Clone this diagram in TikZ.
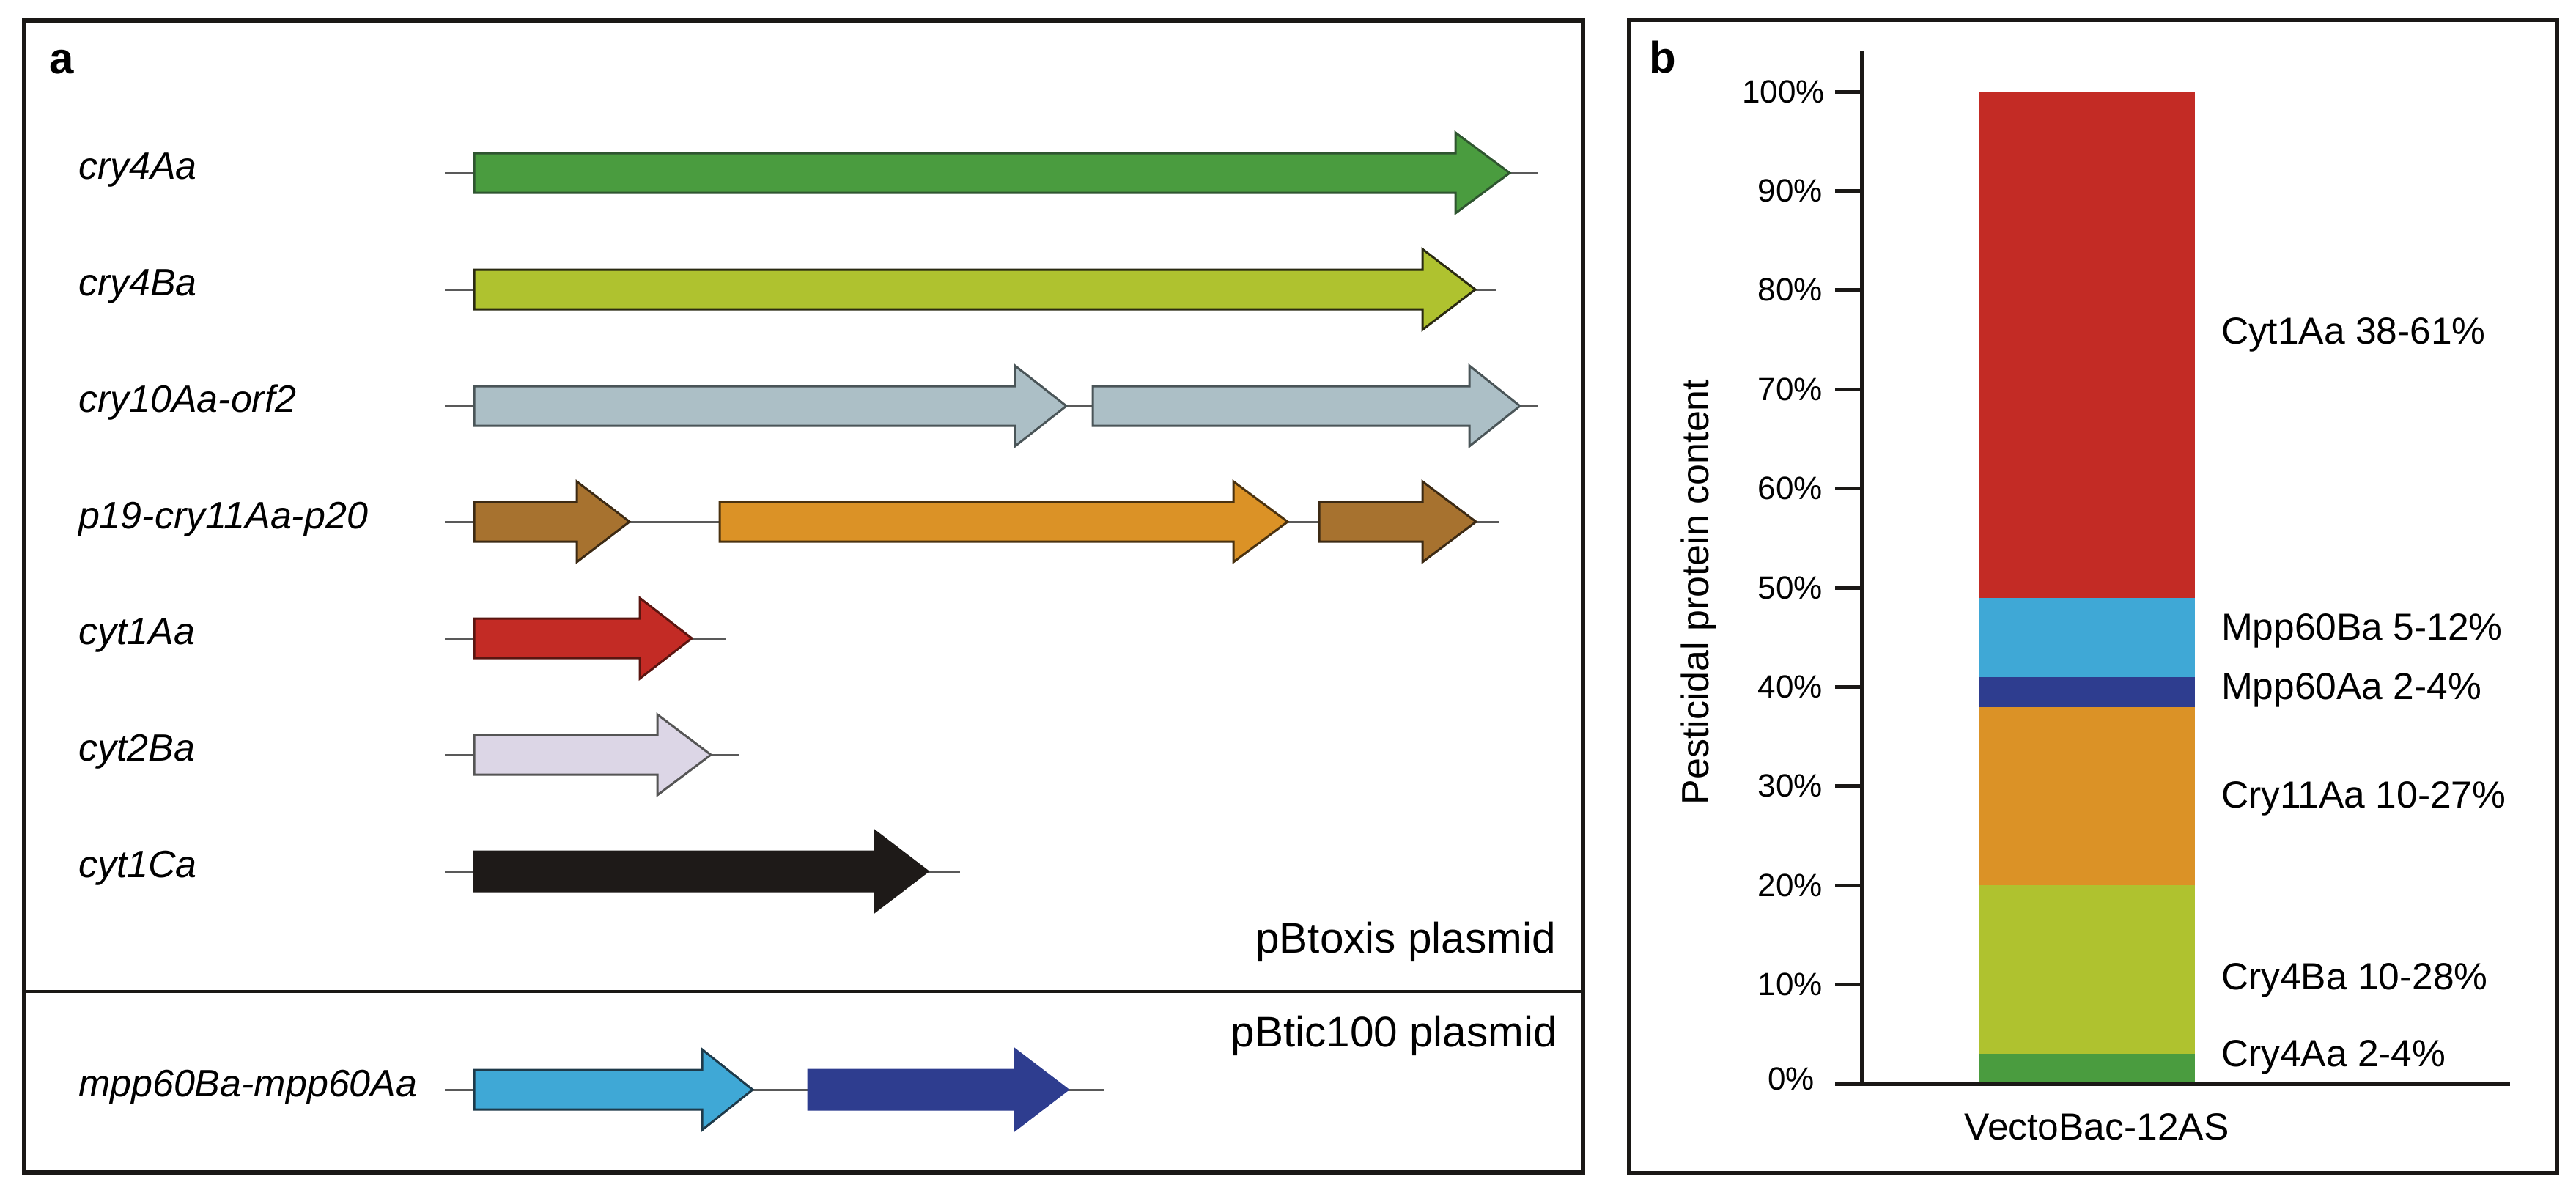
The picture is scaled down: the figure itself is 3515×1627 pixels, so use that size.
\documentclass[tikz,border=0pt]{standalone}
\usepackage{fontspec}
\setmainfont{Liberation Sans}
\definecolor{cgreen}{HTML}{4A9C3F}
\definecolor{cgreenD}{HTML}{2F5530}
\definecolor{cyel}{HTML}{AFC22F}
\definecolor{cyelD}{HTML}{2A2A12}
\definecolor{cgrey}{HTML}{ACBFC6}
\definecolor{cgreyD}{HTML}{4A5558}
\definecolor{cbrown}{HTML}{A7722F}
\definecolor{cbrownD}{HTML}{3C2A14}
\definecolor{corange}{HTML}{DB9226}
\definecolor{corangeD}{HTML}{4A3210}
\definecolor{cred}{HTML}{C32B25}
\definecolor{credD}{HTML}{5A1510}
\definecolor{clav}{HTML}{DCD6E6}
\definecolor{clavD}{HTML}{555555}
\definecolor{cblack}{HTML}{1E1A18}
\definecolor{clblue}{HTML}{3FA8D6}
\definecolor{clblueD}{HTML}{1E3A4A}
\definecolor{cdblue}{HTML}{2E3D8F}
\definecolor{framec}{HTML}{1A1816}
\newcommand\genearrow[6]{%
  \filldraw[fill=#5, draw=#6, line width=0.6pt]
    (#1,#4-27) -- (#2,#4-27) -- (#2,#4-55) -- (#3,#4) -- (#2,#4+55) -- (#2,#4+27) -- (#1,#4+27) -- cycle;}
\begin{document}
\begin{tikzpicture}[x=0.2pt,y=-0.2pt,line join=miter,
  frame/.style={draw=framec, line width=1.1pt},
  backbone/.style={draw=black!65, line width=0.6pt},
  genelabel/.style={font=\fontsize{10.4}{12}\selectfont\itshape, anchor=base west, inner sep=0pt},
  panellabel/.style={font=\fontsize{12}{14}\selectfont\bfseries, anchor=base west, inner sep=0pt},
  plasmidlabel/.style={font=\fontsize{11.7}{14}\selectfont, anchor=base east, inner sep=0pt},
  ticklab/.style={font=\fontsize{8.8}{10}\selectfont, anchor=east, inner sep=0pt},
  barlab/.style={font=\fontsize{10.3}{12}\selectfont, anchor=west, inner sep=0pt},
  axisline/.style={draw=framec, line width=1pt}]
\useasboundingbox (0,0) rectangle (3515,1627);
\fill[white] (0,0) rectangle (3515,1627);

% ---------------- panel a ----------------
\draw[frame] (33,28) rectangle (2160,1600);
\draw[draw=framec, line width=0.9pt] (33,1353) -- (2160,1353);
\node[panellabel] (pa) at (66,100) {a};

% row 1 cry4Aa
\draw[backbone] (607,236) -- (2099,236);
\genearrow{647}{1986}{2060}{236}{cgreen}{cgreenD}
\node[genelabel] (l1) at (106,244) {cry4Aa};
% row 2 cry4Ba
\draw[backbone] (607,395) -- (2042,395);
\genearrow{647}{1941}{2013}{395}{cyel}{cyelD}
\node[genelabel] (l2) at (106,403) {cry4Ba};
% row 3 cry10Aa-orf2
\draw[backbone] (607,554) -- (2099,554);
\genearrow{647}{1385}{1455}{554}{cgrey}{cgreyD}
\genearrow{1491}{2005}{2074}{554}{cgrey}{cgreyD}
\node[genelabel] (l3) at (106,562) {cry10Aa-orf2};
% row 4 p19-cry11Aa-p20
\draw[backbone] (607,712) -- (2045,712);
\genearrow{647}{787}{859}{712}{cbrown}{cbrownD}
\genearrow{982}{1683}{1757}{712}{corange}{corangeD}
\genearrow{1800}{1941}{2014}{712}{cbrown}{cbrownD}
\node[genelabel] (l4) at (106,721) {p19-cry11Aa-p20};
% row 5 cyt1Aa
\draw[backbone] (607,871) -- (991,871);
\genearrow{647}{873}{944}{871}{cred}{credD}
\node[genelabel] (l5) at (106,879) {cyt1Aa};
% row 6 cyt2Ba
\draw[backbone] (607,1030) -- (1009,1030);
\genearrow{647}{897}{970}{1030}{clav}{clavD}
\node[genelabel] (l6) at (106,1038) {cyt2Ba};
% row 7 cyt1Ca
\draw[backbone] (607,1189) -- (1310,1189);
\genearrow{647}{1194}{1266}{1189}{cblack}{cblack}
\node[genelabel] (l7) at (106,1197) {cyt1Ca};
% row 8 mpp60Ba-mpp60Aa
\draw[backbone] (607,1487) -- (1507,1487);
\genearrow{647}{958}{1027}{1487}{clblue}{clblueD}
\genearrow{1103}{1385}{1457}{1487}{cdblue}{cdblue}
\node[genelabel] (l8) at (106,1496) {mpp60Ba-mpp60Aa};

\node[plasmidlabel] (pl1) at (2124,1300) {pBtoxis plasmid};
\node[plasmidlabel] (pl2) at (2126,1428) {pBtic100 plasmid};

% ---------------- panel b ----------------
\draw[frame] (2223,27) rectangle (3489,1601);
\node[panellabel] (pb) at (2249,99) {b};

% stacked bar
\fill[cgreen]  (2701,1479) rectangle (2995,{1479-13.54*3});
\fill[cyel]    (2701,{1479-13.54*3}) rectangle (2995,{1479-13.54*20});
\fill[corange] (2701,{1479-13.54*20}) rectangle (2995,{1479-13.54*38});
\fill[cdblue]  (2701,{1479-13.54*38}) rectangle (2995,{1479-13.54*41});
\fill[clblue]  (2701,{1479-13.54*41}) rectangle (2995,{1479-13.54*49});
\fill[cred]    (2701,{1479-13.54*49}) rectangle (2995,{1479-13.54*100});

% axes
\draw[axisline] (2540,69) -- (2540,1479);
\draw[axisline] (2504,1479) -- (3425,1479);
\foreach \k in {1,...,10} {
  \draw[axisline] (2504,{1479-135.4*\k}) -- (2540,{1479-135.4*\k});
}
\node[ticklab] (t0) at (2477,1472) {0\%};
\node[ticklab] (t1) at (2488,{1479-135.4*1}) {10\%};
\node[ticklab] (t2) at (2488,{1479-135.4*2}) {20\%};
\node[ticklab] (t3) at (2488,{1479-135.4*3}) {30\%};
\node[ticklab] (t4) at (2488,{1479-135.4*4}) {40\%};
\node[ticklab] (t5) at (2488,{1479-135.4*5}) {50\%};
\node[ticklab] (t6) at (2488,{1479-135.4*6}) {60\%};
\node[ticklab] (t7) at (2488,{1479-135.4*7}) {70\%};
\node[ticklab] (t8) at (2488,{1479-135.4*8}) {80\%};
\node[ticklab] (t9) at (2488,{1479-135.4*9}) {90\%};
\node[ticklab] (t10) at (2491,{1479-135.4*10}) {100\%};

\node[barlab] (b1) at (3030,457) {Cyt1Aa 38-61\%};
\node[barlab] (b2) at (3030,861) {Mpp60Ba 5-12\%};
\node[barlab] (b3) at (3030,942) {Mpp60Aa 2-4\%};
\node[barlab] (b4) at (3030,1090) {Cry11Aa 10-27\%};
\node[barlab] (b5) at (3030,1338) {Cry4Ba 10-28\%};
\node[barlab] (b6) at (3030,1443) {Cry4Aa 2-4\%};

\node[font=\fontsize{10.3}{12}\selectfont, inner sep=0pt] (xl) at (2861,1538) {VectoBac-12AS};
\node[font=\fontsize{10.4}{12}\selectfont, inner sep=0pt, rotate=90] (yl) at (2318,808) {Pesticidal protein content};
\end{tikzpicture}
\end{document}
